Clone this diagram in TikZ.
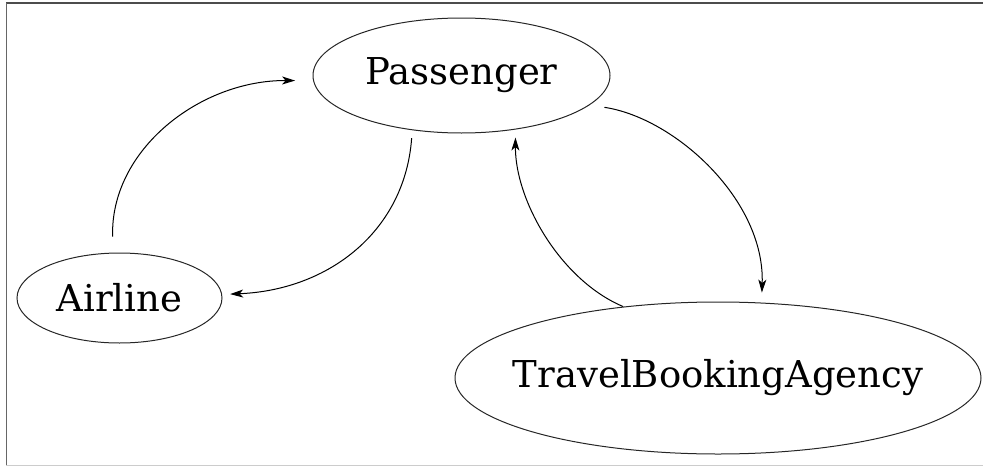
\documentclass[tikz,border=0pt]{standalone}
\usepackage{fontspec}
\setmainfont{DejaVu Serif}
\usetikzlibrary{shapes.geometric,arrows.meta}
\begin{document}
\begin{tikzpicture}[x=1pt,y=-1pt,
  state/.style={ellipse,draw=black!85,line width=1pt,inner sep=-60pt,
    font=\fontsize{37}{44}\selectfont},
  edge/.style={draw=black,line width=1pt,
    -{Stealth[length=13pt,width=8pt,inset=3.5pt]}}]
  \useasboundingbox (0,0) rectangle (983,466);
  % window frame
  \draw[black!70,line width=1.5pt] (6,3) -- (983,3);
  \draw[black!60,line width=1pt] (6,3) -- (6,465);
  \draw[black!20,line width=1pt] (6,465) -- (983,465);
  % states
  \node[state,minimum width=297pt,minimum height=115pt] (passenger) at (461.5,75.5) {Passenger};
  \node[state,minimum width=205pt,minimum height=90pt] (airline) at (119.5,298) {Airline};
  \node[state,minimum width=526pt,minimum height=152pt] (tba) at (718,378) {TravelBookingAgency};
  % transitions
  \draw[edge,shorten <=16pt,shorten >=18pt] (airline.98) .. controls (110,150) and (200,80) .. (passenger.182);
  \draw[edge,shorten <=8pt,shorten >=8pt] (passenger.-132) .. controls (405,230) and (330,290) .. (airline.2);
  \draw[edge,shorten >=8pt] (tba.143) .. controls (560,280) and (515,200) .. (passenger.-45);
  \draw[edge,shorten <=15pt,shorten >=10pt] (passenger.-13) .. controls (675,118) and (765,200) .. (tba.60);
\end{tikzpicture}
\end{document}
